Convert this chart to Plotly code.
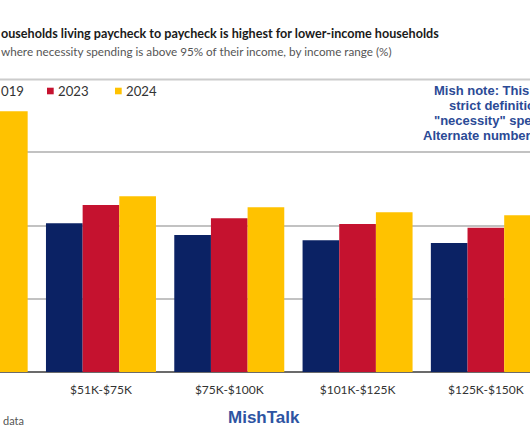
import plotly.graph_objects as go

# ---- data ----
categories = ["<$50K", "$51K-$75K", "$75K-$100K", "$101K-$125K", "$125K-$150K"]
years = ["2019", "2023", "2024"]
values_2019 = [None, 20.3, 18.7, 18.0, 17.6]
values_2023 = [None, 22.8, 21.0, 20.2, 19.7]
values_2024 = [35.6, 24.0, 22.5, 21.8, 21.4]
series = [values_2019, values_2023, values_2024]
colors = ["#0B2264", "#C5122F", "#FFC200"]

title_text = "ouseholds living paycheck to paycheck is highest for lower-income households"
subtitle_text = "where necessity spending is above 95% of their income, by income range (%)"
note_lines = ["Mish note: This", "strict definitio", "\"necessity\" spe", "Alternate number"]

# ---- geometry ----
W, H = 530, 442
PLOT_TOP, PLOT_BOTTOM = 79, 372


def px(x):
    return x / W


def py(y):
    return (PLOT_BOTTOM - y) / (PLOT_BOTTOM - PLOT_TOP)


fig = go.Figure()
for name, vals, col in zip(years, series, colors):
    fig.add_trace(go.Bar(x=categories, y=vals, name=name, marker_color=col,
                         marker_line_width=0, showlegend=False))

BASE_FONT = "Lato, 'Open Sans', sans-serif"
NOTE_FONT = "'Liberation Sans', Arial, sans-serif"

ann = []
ann.append(dict(text="<b>" + title_text + "</b>", x=px(0), y=py(33.5), xref="paper", yref="paper",
                xanchor="left", yanchor="middle", showarrow=False, borderpad=0,
                font=dict(family=BASE_FONT, size=12.6, color="#1a1a1a")))
ann.append(dict(text=subtitle_text, x=px(0), y=py(50.5), xref="paper", yref="paper",
                xanchor="left", yanchor="middle", showarrow=False, borderpad=0,
                font=dict(family=BASE_FONT, size=11.7, color="#555555")))

# custom legend
legend_items = [("019", 0, None), ("2023", 57, 47), ("2024", 125, 115)]
shapes = []
for (txt, tx, sx), col in zip(legend_items, colors):
    ann.append(dict(text=txt, x=px(tx), y=py(91), xref="paper", yref="paper",
                    xanchor="left", yanchor="middle", showarrow=False, borderpad=0,
                    font=dict(family=BASE_FONT, size=13.2, color="#333333")))
    if sx is not None:
        shapes.append(dict(type="rect", xref="paper", yref="paper",
                           x0=px(sx), x1=px(sx + 6.7), y0=py(94.3), y1=py(87.7),
                           fillcolor=col, line=dict(width=0)))

# top rule under the subtitle
shapes.append(dict(type="line", xref="paper", yref="paper", x0=0, x1=1,
                   y0=py(79.5), y1=py(79.5), line=dict(color="#cccccc", width=2)))

note_x = [432.7, 448, 433, 422]
note_y = [90, 105, 120, 135]
for t, nx, ny in zip(note_lines, note_x, note_y):
    ann.append(dict(text="<b>" + t + "</b>", x=px(nx), y=py(ny), xref="paper", yref="paper",
                    xanchor="left", yanchor="middle", showarrow=False, borderpad=0,
                    font=dict(family=NOTE_FONT, size=13, color="#2B4A96")))

ann.append(dict(text="data", x=px(2), y=py(420), xref="paper", yref="paper",
                xanchor="left", yanchor="middle", showarrow=False, borderpad=0,
                font=dict(family=BASE_FONT, size=11, color="#555555")))
ann.append(dict(text="<b>MishTalk</b>", x=px(263.5), y=py(417.5), xref="paper", yref="paper",
                xanchor="center", yanchor="middle", showarrow=False, borderpad=0,
                font=dict(family=NOTE_FONT, size=17, color="#2E54A2")))

fig.update_layout(
    width=W, height=H,
    margin=dict(l=0, r=0, t=PLOT_TOP, b=H - PLOT_BOTTOM, pad=0),
    paper_bgcolor="white", plot_bgcolor="white",
    barmode="group", bargap=0.1426, bargroupgap=0,
    annotations=ann, shapes=shapes,
    showlegend=False,
)
fig.update_xaxes(type="category", range=[0.213, 4.344], showgrid=False, showline=False,
                 ticks="", ticklabelstandoff=9,
                 tickfont=dict(family=BASE_FONT, size=12, color="#333333"))
fig.update_yaxes(range=[0, 40], dtick=10, showgrid=True, gridcolor="#c2c2c2", gridwidth=1.8,
                 zeroline=True, zerolinecolor="#6b6b6b", zerolinewidth=2,
                 showticklabels=False, ticks="")

fig.write_html("out.html", config={"displayModeBar": False},
               post_script="document.body.style.margin='0px';")
